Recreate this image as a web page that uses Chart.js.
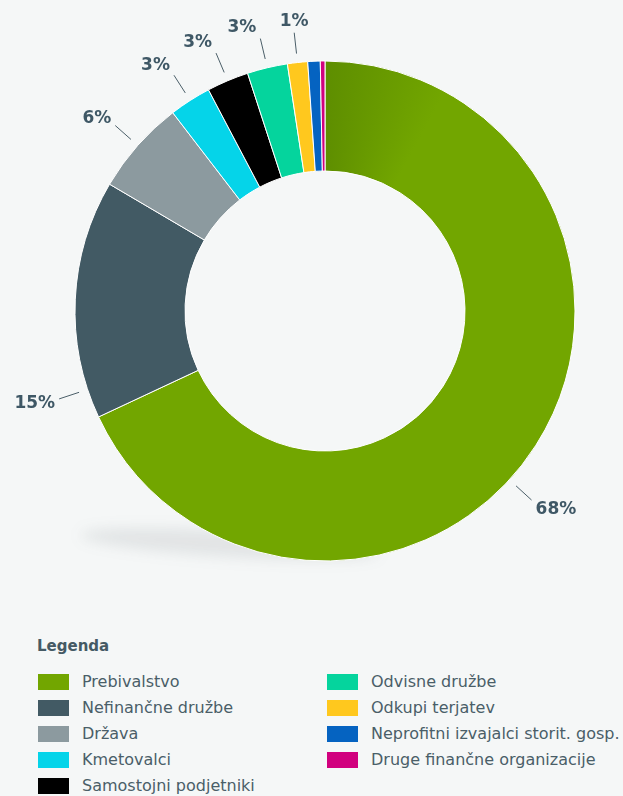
<!DOCTYPE html>
<html>
<head>
<meta charset="utf-8">
<script src="https://cdn.jsdelivr.net/npm/chart.js@4.4.1/dist/chart.umd.min.js"></script>
<style>
  html, body { margin: 0; padding: 0; background: #f5f7f7; overflow: hidden; }
  body { width: 623px; height: 796px; position: relative; font-family: "DejaVu Sans", Verdana, sans-serif; }
  #wrap { position: absolute; left: 0; top: 0; width: 623px; height: 622px; }
  #legend-title { position: absolute; left: 37px; top: 637px; font-size: 15px; line-height: 18px; font-weight: bold; color: #455a64; }
  .leg-item { position: absolute; height: 16px; display: flex; align-items: center; }
  .leg-item .sw { width: 31px; height: 16px; margin-right: 13px; flex: none; }
  .leg-item .tx { font-size: 16px; line-height: 16px; color: #4a5e68; white-space: nowrap; }
</style>
</head>
<body>
<div id="wrap"><canvas id="donut"></canvas></div>
<div id="legend-title">Legenda</div>
<div id="legend"></div>

<script>
// categories
const categories = [
  'Prebivalstvo',
  'Nefinančne družbe',
  'Država',
  'Kmetovalci',
  'Samostojni podjetniki',
  'Odvisne družbe',
  'Odkupi terjatev',
  'Neprofitni izvajalci storit. gosp.',
  'Druge finančne organizacije'
];

// shares in %
const shares = [67.9, 15.4, 6.1, 2.7, 2.7, 2.6, 1.3, 0.8, 0.3];

// data labels shown next to the ring (null = no label)
const shareLabels = ['68%', '15%', '6%', '3%', '3%', '3%', '1%', null, null];

const sliceColors = [
  '#72a600', '#425a64', '#8c9a9f', '#05d4e9', '#000000',
  '#05d49d', '#ffc81e', '#0563c1', '#d1007e'
];

// soft shadow under the ring, bottom-left
const shadowPlugin = {
  id: 'ringShadow',
  beforeDatasetsDraw(chart) {
    const arc = chart.getDatasetMeta(0).data[0];
    if (!arc) return;
    const { x, y, outerRadius } = arc.getProps(['x', 'y', 'outerRadius'], true);
    const ctx = chart.ctx;
    ctx.save();
    ctx.filter = 'blur(7px)';
    ctx.fillStyle = 'rgba(70, 85, 95, 0.11)';
    ctx.beginPath();
    ctx.ellipse(x - 95, y + outerRadius - 17, 150, 13, 0.06, 0, Math.PI * 2);
    ctx.fill();
    ctx.restore();
  }
};

// outside labels with short connector lines
const outLabels = {
  id: 'outLabels',
  afterDatasetsDraw(chart, args, opts) {
    const ctx = chart.ctx;
    const meta = chart.getDatasetMeta(0);
    ctx.save();
    ctx.font = 'bold 17px "DejaVu Sans", Verdana, sans-serif';
    ctx.textAlign = 'center';
    ctx.textBaseline = 'middle';
    meta.data.forEach((arc, i) => {
      const txt = shareLabels[i];
      if (!txt) return;
      const p = arc.getProps(['x', 'y', 'startAngle', 'endAngle', 'outerRadius'], true);
      const shift = (opts.shift && opts.shift[i]) || 0;
      const a = (p.startAngle + p.endAngle) / 2 + shift * Math.PI / 180;
      const cx = Math.cos(a), cy = Math.sin(a);
      const r1 = p.outerRadius + 9, r2 = p.outerRadius + 30;
      const x2 = p.x + cx * r2, y2 = p.y + cy * r2;
      ctx.strokeStyle = '#4a5e68';
      ctx.lineWidth = 1;
      ctx.beginPath();
      ctx.moveTo(p.x + cx * r1, p.y + cy * r1);
      ctx.lineTo(x2, y2);
      ctx.stroke();
      const w = ctx.measureText(txt).width;
      // text sits beside the line end, centred when the line is nearly vertical
      const f = Math.min(1, Math.max(0, (Math.abs(cx) - 0.12) / 0.1));
      const dx = Math.sign(cx) * (w / 2 + 4) * f;
      const dy = cy * 12.5;
      ctx.fillStyle = '#3f5866';
      ctx.fillText(txt, x2 + dx, y2 + dy + 1);
    });
    ctx.restore();
  }
};

function sliceColor(context) {
  const i = context.dataIndex;
  const chart = context.chart;
  if (i !== 0 || !chart.chartArea) return sliceColors[i];
  const cx = (chart.chartArea.left + chart.chartArea.right) / 2;
  const cy = (chart.chartArea.top + chart.chartArea.bottom) / 2;
  const g = chart.ctx.createConicGradient(-Math.PI / 2, cx, cy);
  g.addColorStop(0, '#5e8e00');
  g.addColorStop(0.08, '#72a600');
  g.addColorStop(1, '#72a600');
  return g;
}

new Chart(document.getElementById('donut'), {
  type: 'doughnut',
  data: {
    labels: categories,
    datasets: [{
      data: shares,
      backgroundColor: sliceColor,
      borderColor: '#ffffff',
      borderWidth: 1
    }]
  },
  options: {
    responsive: true,
    maintainAspectRatio: false,
    animation: false,
    radius: 250,
    cutout: '56%',
    layout: { padding: { left: 27 } },
    plugins: {
      legend: { display: false },
      tooltip: { enabled: false },
      outLabels: { shift: [10, -21, 0, 0, 0, 0, 0, 0, 0] }
    }
  },
  plugins: [shadowPlugin, outLabels]
});

// legend, two columns filled top-down
const legend = document.getElementById('legend');
categories.forEach((name, i) => {
  const col = i < 5 ? 0 : 1;
  const row = i < 5 ? i : i - 5;
  const item = document.createElement('div');
  item.className = 'leg-item';
  item.style.left = (col === 0 ? 38 : 327) + 'px';
  item.style.top = (674 + row * 26) + 'px';
  const sw = document.createElement('span');
  sw.className = 'sw';
  sw.style.background = sliceColors[i];
  const tx = document.createElement('span');
  tx.className = 'tx';
  tx.textContent = name;
  item.appendChild(sw);
  item.appendChild(tx);
  legend.appendChild(item);
});
</script>
</body>
</html>
